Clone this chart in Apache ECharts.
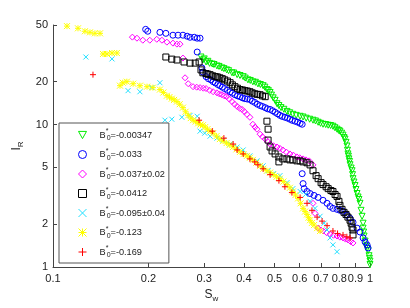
<!DOCTYPE html>
<html><head><meta charset="utf-8">
<script src="https://cdn.jsdelivr.net/npm/echarts@6/dist/echarts.min.js"></script>
<style>html,body{margin:0;padding:0;background:#fff}#c{width:410px;height:308px}</style>
</head><body><div id="c"></div>
<script>
// Tick labels
const xTicks = [0.1,0.2,0.3,0.4,0.5,0.6,0.7,0.8,0.9,1];
const yTicks = [1,2,5,10,20,50];
// Legend values (B0*)
const seriesNames = ['-0.00347','-0.033','-0.037±0.02','-0.0412','-0.095±0.04','-0.123','-0.169'];

// Series 1: B0*=-0.00347 (green)
const swGreen = [0.293,0.297,0.300,0.304,0.308,0.312,0.318,0.322,0.329,0.334,0.341,0.346,0.353,0.358,0.367,0.372,0.381,0.389,0.398,0.404,0.412,0.419,0.427,0.435,0.443,0.451,0.460,0.466,0.473,0.478,0.484,0.489,0.495,0.502,0.509,0.516,0.524,0.535,0.547,0.558,0.571,0.585,0.602,0.615,0.629,0.645,0.661,0.673,0.686,0.698,0.711,0.725,0.738,0.751,0.764,0.775,0.787,0.796,0.804,0.814,0.822,0.828,0.834,0.840,0.846,0.849,0.852,0.855,0.858,0.862,0.865,0.872,0.878,0.881,0.884,0.890,0.897,0.903,0.910,0.917,0.923,0.930,0.937,0.944,0.951,0.951,0.955,0.958,0.965,0.972,0.979,0.986,0.993,0.996,1.0,1.0];
const irGreen = [29.8,28.4,28.9,27.5,27.8,26.9,26.6,26.4,25.8,25.6,25.0,24.7,24.2,23.9,23.1,23.0,22.4,22.1,21.7,21.2,20.6,20.4,19.95,19.8,19.3,19.1,18.75,18.3,17.6,17.3,16.8,16.1,15.4,14.8,14.0,13.6,13.15,12.8,12.37,12.1,11.8,11.6,11.43,11.3,11.08,10.9,10.73,10.6,10.38,10.2,10.05,10.0,9.89,9.85,9.73,9.5,9.28,9.1,8.99,8.7,8.42,8.1,7.91,7.5,7.07,6.6,6.22,6.0,5.74,5.5,5.22,4.95,4.74,4.45,4.17,3.95,3.73,3.5,3.28,3.1,2.98,2.80,2.50,2.27,2.03,1.875,1.76,1.65,1.52,1.40,1.35,1.30,1.20,1.15,1.10,1.04];

// Series 2: B0*=-0.033 (blue)
const swBlue = [0.196,0.199,0.2174,0.227,0.239,0.248,0.257,0.265,0.2706,0.279,0.285,0.291,0.285,0.295,0.297,0.304,0.309,0.315,0.320,0.325,0.331,0.336,0.342,0.348,0.355,0.362,0.368,0.375,0.382,0.389,0.396,0.403,0.410,0.418,0.425,0.433,0.441,0.450,0.458,0.467,0.475,0.484,0.493,0.502,0.511,0.520,0.529,0.539,0.549,0.559,0.569,0.580,0.591,0.602,0.611,0.611,0.615,0.620,0.633,0.647,0.666,0.686,0.711,0.732,0.748,0.764,0.787,0.804,0.822,0.846,0.865,0.884,0.910,0.930,0.951,0.965,0.979,0.986];
const irBlue = [46.6,45.2,44.4,43.7,42.4,42.4,42.4,41.7,41.0,41.0,40.4,40.4,32.3,25.0,23.4,21.7,21.0,20.6,20.0,19.6,19.1,18.75,18.3,17.9,17.4,17.0,16.6,16.2,15.9,15.7,15.4,15.2,15.1,15.0,14.6,14.3,13.9,13.6,13.4,13.15,12.9,12.77,12.5,12.2,11.9,11.6,11.4,11.25,11.1,10.9,10.7,10.56,10.4,10.2,10.05,4.52,3.85,3.55,3.39,3.28,3.18,3.08,2.94,2.80,2.66,2.58,2.54,2.50,2.46,2.31,2.20,2.06,1.875,1.76,1.60,1.50,1.43,1.36];

// Series 3: B0*=-0.037±0.02 (magenta)
const swMagenta = [0.178,0.184,0.192,0.202,0.2125,0.2206,0.2287,0.239,0.246,0.2516,0.257,0.261,0.267,0.2766,0.284,0.291,0.298,0.304,0.312,0.320,0.329,0.335,0.341,0.347,0.353,0.360,0.367,0.374,0.381,0.388,0.395,0.402,0.409,0.418,0.427,0.434,0.440,0.450,0.458,0.467,0.476,0.484,0.496,0.509,0.520,0.531,0.545,0.559,0.573,0.588,0.600,0.615,0.628,0.643,0.661,0.661,0.671,0.686,0.699,0.711,0.730,0.748,0.767,0.787,0.804,0.822,0.837,0.852,0.868,0.884];
const irMagenta = [41.1,40.4,39.1,39.1,39.7,39.1,37.9,37.3,36.7,36.7,29.3,21.3,19.36,18.45,18.3,18.17,18.0,17.9,17.4,17.0,16.7,16.4,16.2,15.9,15.7,15.1,14.5,13.9,13.4,13.0,12.77,12.3,11.8,11.25,10.05,9.6,9.28,8.56,8.2,7.91,7.6,7.30,7.1,6.96,6.8,6.63,6.4,6.22,6.1,5.93,5.85,5.74,5.65,5.56,5.21,2.80,2.38,1.875,1.82,1.79,1.74,1.70,1.67,1.65,1.62,1.60,1.57,1.55,1.51,1.475];

// Series 4: B0*=-0.0412 (black)
const swBlack = [0.227,0.237,0.246,0.259,0.2706,0.281,0.289,0.293,0.297,0.304,0.308,0.313,0.319,0.325,0.330,0.336,0.342,0.348,0.355,0.362,0.368,0.375,0.382,0.389,0.396,0.403,0.410,0.418,0.425,0.433,0.441,0.450,0.458,0.467,0.473,0.477,0.477,0.484,0.491,0.502,0.516,0.516,0.531,0.547,0.559,0.571,0.588,0.602,0.615,0.633,0.647,0.661,0.676,0.686,0.701,0.711,0.727,0.738,0.753,0.764,0.776,0.787,0.798,0.804,0.816,0.828,0.840,0.852,0.865,0.872,0.878,0.884,0.884];
const irBlack = [29.8,28.8,28.4,27.5,27.0,27.0,27.5,24.2,23.1,22.8,22.6,22.4,22.0,21.7,21.6,21.3,21.0,20.6,20.2,19.67,19.0,18.45,18.0,17.6,17.5,17.3,17.2,17.0,16.7,16.45,16.3,16.2,15.9,15.7,10.56,9.28,7.78,6.96,6.53,6.22,5.92,5.47,5.74,5.74,5.65,5.65,5.56,5.56,5.47,5.39,5.21,4.74,4.38,4.17,3.91,3.79,3.66,3.55,3.44,3.39,3.23,3.13,2.89,2.71,2.54,2.42,2.34,2.24,2.13,2.03,1.90,1.82,1.68];

// Series 5: B0*=-0.095±0.04 (cyan)
const swCyan = [0.127,0.1535,0.1725,0.188,0.205,0.2174,0.2255,0.237,0.255,0.2706,0.285,0.291,0.301,0.313,0.329,0.344,0.362,0.381,0.398,0.418,0.440,0.460,0.477,0.495,0.520,0.547,0.571,0.602,0.626,0.647,0.671,0.696,0.716,0.732,0.748,0.764,0.787];
const irCyan = [29.8,28.9,17.3,17.0,18.17,19.67,10.73,10.9,11.25,11.6,11.43,8.99,8.70,8.29,8.03,7.78,7.30,6.96,6.63,6.03,5.56,5.13,4.74,4.52,4.38,3.91,3.55,3.39,3.23,2.89,2.58,2.27,2.03,1.82,1.60,1.43,1.28];

// Series 6: B0*=-0.123 (yellow)
const swYellow = [0.1107,0.1199,0.1261,0.1308,0.1356,0.1407,0.1438,0.148,0.1535,0.159,0.1627,0.166,0.171,0.179,0.188,0.198,0.2066,0.2174,0.2230,0.2287,0.233,0.237,0.241,0.246,0.251,0.257,0.262,0.267,0.272,0.2766,0.282,0.287,0.292,0.297,0.302,0.307,0.313,0.320,0.328,0.336,0.344,0.353,0.361,0.370,0.379,0.389,0.399,0.409,0.418,0.427,0.438,0.450,0.461,0.473,0.484,0.495,0.507,0.520,0.533,0.547,0.559,0.571,0.582,0.593,0.604,0.615,0.624,0.633,0.640,0.647,0.656,0.666,0.681,0.696];
const irYellow = [49.1,47.4,45.2,44.4,43.7,43.7,31.3,31.3,31.8,31.8,18.75,19.67,20.0,19.36,18.75,18.45,18.17,17.6,16.8,15.95,15.6,15.2,14.9,14.5,13.9,13.15,12.3,11.6,11.1,10.73,10.5,10.2,10.0,9.89,9.6,9.28,9.0,8.70,8.3,7.91,7.65,7.42,7.2,6.96,6.7,6.43,6.2,6.03,5.85,5.65,5.4,5.13,4.9,4.74,4.6,4.45,4.3,4.17,3.98,3.79,3.6,3.39,3.2,3.03,2.8,2.58,2.45,2.34,2.22,2.13,2.04,1.97,1.875,1.79];

// Series 7: B0*=-0.169 (red)
const swRed = [0.1337,0.289,0.318,0.346,0.370,0.381,0.398,0.418,0.433,0.443,0.460,0.484,0.516,0.539,0.567,0.602,0.633,0.656,0.681,0.706,0.732,0.764,0.790,0.822,0.845,0.865];
const irRed = [22.4,10.73,8.99,8.03,7.30,6.63,6.22,5.74,5.47,5.22,4.89,4.45,4.04,3.66,3.33,3.08,2.80,2.50,2.24,2.10,1.95,1.79,1.72,1.68,1.63,1.60];

const pairs = (xs, ys) => xs.map((x, i) => [x, ys[i]]);

const defs = [
  {x: swGreen,   y: irGreen,   color: '#00ee00', symbol: 'path://M0,0L10,0L5,9Z', size: 6},
  {x: swBlue,    y: irBlue,    color: '#0000ff', symbol: 'circle', size: 6},
  {x: swMagenta, y: irMagenta, color: '#ff00ff', symbol: 'path://M5,0L10,5L5,10L0,5Z', size: 6},
  {x: swBlack,   y: irBlack,   color: '#000000', symbol: 'rect', size: 6},
  {x: swCyan,    y: irCyan,    color: '#20e0ff', symbol: 'path://M0,0L10,10M10,0L0,10', size: 5},
  {x: swYellow,  y: irYellow,  color: '#ffff00', symbol: 'path://M0,0L10,10M10,0L0,10M5,0L5,10M0,5L10,5', size: 6},
  {x: swRed,     y: irRed,     color: '#ff0000', symbol: 'path://M5,0L5,10M0,5L10,5', size: 6}
];

const series = defs.map((d, i) => ({
  type: 'scatter',
  name: seriesNames[i],
  data: pairs(d.x, d.y),
  symbol: d.symbol,
  symbolSize: d.size,
  itemStyle: {color: 'none', borderColor: d.color, borderWidth: 1, opacity: 1},
  emphasis: {disabled: true},
  animation: false
}));

const fontFam = 'Liberation Sans, Arial, sans-serif';
const chart = echarts.init(document.getElementById('c'), null, {renderer: 'canvas'});
chart.setOption({
  animation: false,
  backgroundColor: '#fff',
  grid: {left: 53, right: 40, top: 25, bottom: 38},
  xAxis: {
    type: 'log', logBase: 10, min: 0.1, max: 1,
    name: '{s|S}{w|w}', nameLocation: 'middle', nameGap: 20,
    nameTextStyle: {rich: {s: {fontSize: 12, fontFamily: fontFam, color: '#222'}, w: {fontSize: 8, fontFamily: fontFam, color: '#222', verticalAlign: 'bottom', padding: [8,0,0,0]}}},
    axisLine: {lineStyle: {color: '#444', width: 1}},
    axisTick: {inside: true, length: 4, customValues: xTicks, lineStyle: {color: '#444'}},
    axisLabel: {customValues: xTicks, fontSize: 11, color: '#222', fontFamily: fontFam, margin: 6, formatter: v => String(+(+v).toPrecision(3))},
    splitLine: {show: false}, minorTick: {show: false}
  },
  yAxis: {
    type: 'log', logBase: 10, min: 1, max: 50,
    name: '{i|I}{r|R}', nameLocation: 'middle', nameGap: 24,
    nameTextStyle: {rich: {i: {fontSize: 12, fontFamily: fontFam, color: '#222'}, r: {fontSize: 8, fontFamily: fontFam, color: '#222', verticalAlign: 'bottom', padding: [8,0,0,0]}}},
    axisLine: {show: true, lineStyle: {color: '#444', width: 1}},
    axisTick: {show: true, inside: true, length: 4, customValues: yTicks, lineStyle: {color: '#444'}},
    axisLabel: {customValues: yTicks, fontSize: 11, color: '#222', fontFamily: fontFam, margin: 5, formatter: v => String(+(+v).toPrecision(3))},
    splitLine: {show: false}, minorTick: {show: false}
  },
  legend: {
    orient: 'vertical', left: 59, top: 123,
    backgroundColor: '#fff',
    borderColor: '#555', borderWidth: 1,
    padding: [5, 4, 4, 17],
    itemWidth: 8, itemHeight: 8, itemGap: 5.5,
    itemStyle: {borderWidth: 1},
    selectedMode: false,
    formatter: n => '{b|B}{sup|*}{sub|0}{t|=' + n + '}',
    textStyle: {
      padding: [0, 0, 0, 8],
      rich: {
        b: {fontSize: 9.2, fontFamily: fontFam, color: '#222', lineHeight: 14},
        sup: {fontSize: 7, fontFamily: fontFam, color: '#222', verticalAlign: 'top', lineHeight: 14, width: 1},
        sub: {fontSize: 7, fontFamily: fontFam, color: '#222', verticalAlign: 'bottom', lineHeight: 14},
        t: {fontSize: 9.2, fontFamily: fontFam, color: '#222', lineHeight: 14}
      }
    },
    data: seriesNames
  },
  series: series
});
</script>
</body></html>
